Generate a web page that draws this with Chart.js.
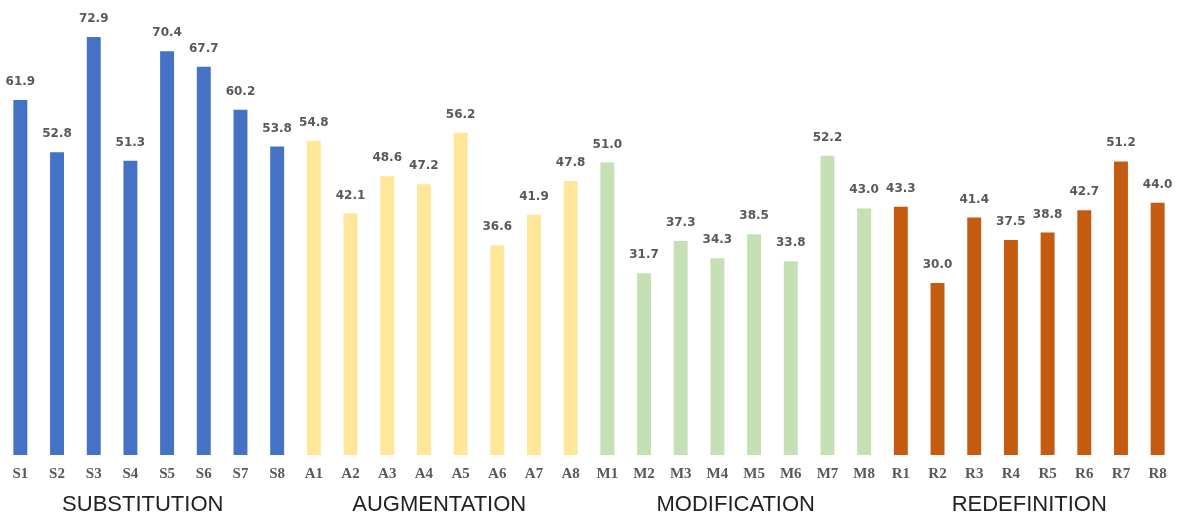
<!DOCTYPE html>
<html>
<head>
<meta charset="utf-8">
<script src="https://cdn.jsdelivr.net/npm/chart.js@4"></script>
<style>
  html, body { margin: 0; padding: 0; background: #fff; }
  #wrap { width: 1178px; height: 518px; }
</style>
</head>
<body>
<div id="wrap"><canvas id="samr"></canvas></div>
<script>
// SAMR scores per item, four groups of eight
const groupNames = ['SUBSTITUTION', 'AUGMENTATION', 'MODIFICATION', 'REDEFINITION'];
const groupPrefix = ['S', 'A', 'M', 'R'];
const groupColors = ['#4472C4', '#FFE699', '#C5E0B4', '#C55A11'];

const substitution = [61.9, 52.8, 72.9, 51.3, 70.4, 67.7, 60.2, 53.8];
const augmentation = [54.8, 42.1, 48.6, 47.2, 56.2, 36.6, 41.9, 47.8];
const modification = [51.0, 31.7, 37.3, 34.3, 38.5, 33.8, 52.2, 43.0];
const redefinition = [43.3, 30.0, 41.4, 37.5, 38.8, 42.7, 51.2, 44.0];

const groups = [substitution, augmentation, modification, redefinition];

const labels = [];
const values = [];
const colors = [];
groups.forEach(function (g, gi) {
  g.forEach(function (v, i) {
    labels.push(groupPrefix[gi] + (i + 1));
    values.push(v);
    colors.push(groupColors[gi]);
  });
});

// number above each bar
const valueLabels = {
  id: 'valueLabels',
  afterDatasetsDraw(chart) {
    const ctx = chart.ctx;
    const meta = chart.getDatasetMeta(0);
    ctx.save();
    ctx.font = 'bold 12px "DejaVu Sans"';
    ctx.fillStyle = '#595959';
    ctx.textAlign = 'center';
    ctx.textBaseline = 'alphabetic';
    meta.data.forEach(function (bar, i) {
      ctx.fillText(values[i].toFixed(1), bar.x, bar.y - 15);
    });
    ctx.restore();
  }
};

// group names under the tick labels
const groupLabels = {
  id: 'groupLabels',
  afterDraw(chart) {
    const ctx = chart.ctx;
    const x = chart.scales.x;
    const nudge = [-6, -3, 0, 0];
    ctx.save();
    ctx.font = '22px "Liberation Sans"';
    ctx.fillStyle = '#222';
    ctx.textAlign = 'center';
    ctx.textBaseline = 'middle';
    groupNames.forEach(function (name, gi) {
      const first = x.getPixelForValue(gi * 8);
      const last = x.getPixelForValue(gi * 8 + 7);
      ctx.fillText(name, (first + last) / 2 + nudge[gi], 505);
    });
    ctx.restore();
  }
};

const ctx = document.getElementById('samr').getContext('2d');
const samrChart = new Chart(ctx, {
  type: 'bar',
  plugins: [valueLabels, groupLabels],
  data: {
    labels: labels,
    datasets: [{
      data: values,
      backgroundColor: colors,
      borderWidth: 0,
      barPercentage: 0.38,
      categoryPercentage: 1.0
    }]
  },
  options: {
    responsive: true,
    maintainAspectRatio: false,
    animation: false,
    layout: { padding: { left: 2, right: 2, top: 0, bottom: 25 } },
    scales: {
      y: { display: false, min: 0, max: 79.35 },
      x: {
        grid: { display: false, drawTicks: false },
        border: { display: false },
        ticks: {
          padding: 10,
          color: '#595959',
          font: { family: 'Liberation Serif', size: 15, weight: 'bold' }
        }
      }
    },
    plugins: {
      legend: { display: false },
      tooltip: { enabled: false }
    }
  }
});
</script>
</body>
</html>
